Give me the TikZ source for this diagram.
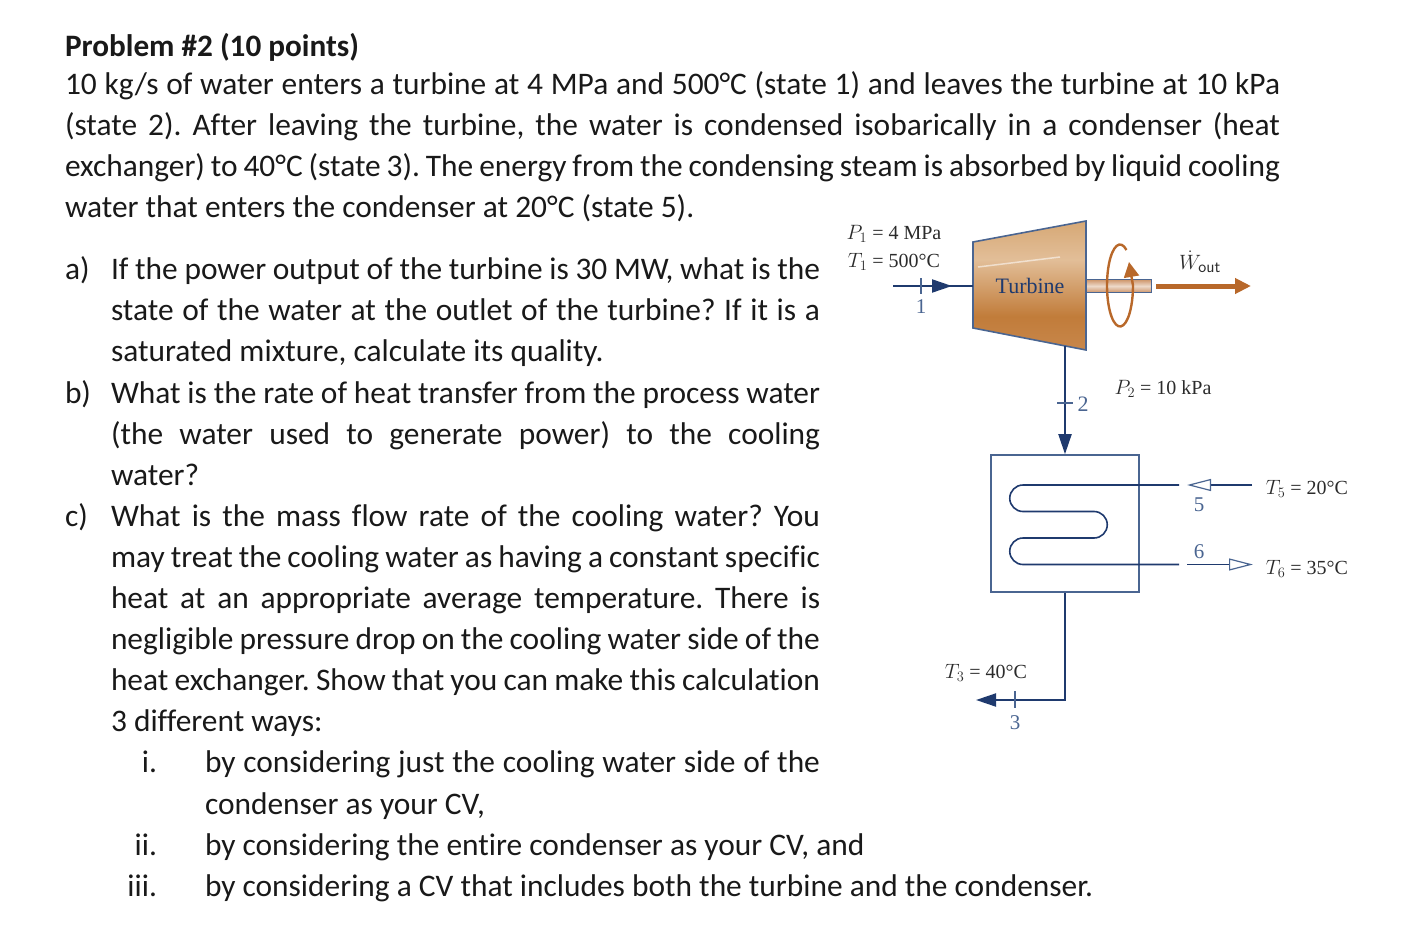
\documentclass[tikz,border=0pt]{standalone}
\usepackage{fontspec}
\setmainfont[Ligatures=NoCommon]{Carlito}
\newfontfamily\figfont{Liberation Serif}
\usepackage{amsmath}
\usetikzlibrary{arrows.meta}
\definecolor{pipeblue}{HTML}{1F3A6E}
\definecolor{boxblue}{HTML}{4A6591}
\definecolor{copper}{HTML}{B8682A}
\definecolor{figtext}{HTML}{2B2B2B}
\definecolor{tnA}{HTML}{D6A875}
\definecolor{tnB}{HTML}{E2BE98}
\definecolor{tnC}{HTML}{C17C3A}
\definecolor{tnD}{HTML}{C8874B}
\pgfdeclareverticalshading{turbineshade}{100bp}{color(0bp)=(tnD); color(25bp)=(tnD); color(38bp)=(tnC); color(60bp)=(tnB); color(75bp)=(tnA); color(100bp)=(tnA)}
\newcommand{\jl}[2]{\makebox[#1pt][s]{#2}}
\frenchspacing
\tikzset{
  textline/.style={anchor=base west,inner sep=0pt,outer sep=0pt,text=black!90,font=\fontsize{31.4}{37}\selectfont},
  romanline/.style={anchor=base east,inner sep=0pt,outer sep=0pt,text=black!90,font=\fontsize{31.4}{37}\selectfont},
  figlabel/.style={inner sep=0pt,text=figtext,font=\figfont\fontsize{20}{22}\selectfont},
  statenum/.style={inner sep=0pt,text=boxblue,font=\figfont\fontsize{21}{23}\selectfont},
  pipe/.style={draw=pipeblue,line width=2pt},
  thinpipe/.style={draw=pipeblue,line width=1.6pt},
  tick/.style={draw=boxblue,line width=1.2pt},
  flowtip/.style={-{Triangle[length=20pt,width=13pt,fill=pipeblue]}},
  opentip/.style={-{Triangle[open,length=24pt,width=12pt,color=boxblue,line width=1.2pt]}}
}
\begin{document}
\begin{tikzpicture}[x=1pt,y=-1pt]
\useasboundingbox (0,0) rectangle (1424,928);

%problem statement
\node[textline,font=\bfseries\fontsize{31.2}{37}\selectfont] (title) at (65,57) {Problem \#2 (10 points)};
\node[textline] (s1) at (65,95) {\jl{1215}{10 kg/s of water enters a turbine at 4 MPa and 500°C (state 1) and leaves the turbine at 10 kPa}};
\node[textline] (s2) at (65,136) {\jl{1215}{(state 2). After leaving the turbine, the water is condensed isobarically in a condenser (heat}};
\node[textline] (s3) at (65,177) {\jl{1215}{exchanger) to 40°C (state 3). The energy from the condensing steam is absorbed by liquid cooling}};
\node[textline] (s4) at (65,218) {water that enters the condenser at 20°C (state 5).};

%part a
\node[textline] (pa) at (65,279.5) {a)};
\node[textline] (a1) at (111,279.5) {\jl{709}{If the power output of the turbine is 30 MW, what is the}};
\node[textline] (a2) at (111,320.5) {\jl{709}{state of the water at the outlet of the turbine? If it is a}};
\node[textline] (a3) at (111,361.5) {saturated mixture, calculate its quality.};

%part b
\node[textline] (pb) at (65,403.5) {b)};
\node[textline] (b1) at (111,403.5) {\jl{709}{What is the rate of heat transfer from the process water}};
\node[textline] (b2) at (111,444.5) {\jl{709}{(the water used to generate power) to the cooling}};
\node[textline] (b3) at (111,485.5) {water?};

%part c
\node[textline] (pc) at (65,526.5) {c)};
\node[textline] (c1) at (111,526.5) {\jl{709}{What is the mass flow rate of the cooling water? You}};
\node[textline] (c2) at (111,567.5) {\jl{709}{may treat the cooling water as having a constant specific}};
\node[textline] (c3) at (111,608.5) {\jl{709}{heat at an appropriate average temperature. There is}};
\node[textline] (c4) at (111,649.5) {\jl{709}{negligible pressure drop on the cooling water side of the}};
\node[textline] (c5) at (111,690.5) {\jl{709}{heat exchanger. Show that you can make this calculation}};
\node[textline] (c6) at (111,731.5) {3 different ways:};
\node[romanline] (ri) at (157,772.5) {i.};
\node[textline] (i1) at (205,772.5) {\jl{615}{by considering just the cooling water side of the}};
\node[textline] (i2) at (205,814.5) {condenser as your CV,};
\node[romanline] (rii) at (157,855.5) {ii.};
\node[textline] (ii1) at (205,855.5) {by considering the entire condenser as your CV, and};
\node[romanline] (riii) at (157,896.5) {iii.};
\node[textline] (iii1) at (205,896.5) {by considering a CV that includes both the turbine and the condenser.};

%turbine body
\coordinate (tNW) at (973,242);
\coordinate (tNE) at (1086,221);
\coordinate (tSE) at (1086,350);
\coordinate (tSW) at (973,328);
\coordinate (tIn) at (973,286);
\coordinate (tOut) at (1065,346);
\shade[shading=turbineshade,draw=boxblue,line width=1.6pt]
  (tNW) -- (tNE) -- (tSE) -- (tSW) -- cycle;
\draw[white,opacity=0.55,line width=1.5pt] (978,267) -- (1060,257);
\node[inner sep=0pt,text=pipeblue,font=\figfont\fontsize{22}{24}\selectfont] (turbine) at (1030,286) {Turbine};

%shaft and work arrow
\shade[top color=copper!70!white,bottom color=copper!70!white,middle color=copper!25!white,draw=boxblue,line width=1.2pt]
  (1086,279.5) rectangle (1151.5,292.5);
\coordinate (wStart) at (1156,286);
\coordinate (wEnd) at (1251,286);
\draw[copper,line width=5pt,-{Triangle[length=16pt,width=15pt]}] (wStart) -- (wEnd);
\draw[copper,line width=2.4pt,-{Triangle[length=15pt,width=15pt]}]
  (1126.5,250) arc[start angle=300,end angle=0,x radius=13,y radius=41] -- (1129,262);
\node[figlabel] (wout) at (1200,262) {$\dot{W}_{\text{\sffamily\fontsize{17}{17}\selectfont out}}$};

%inlet
\coordinate (inStart) at (893,286);
\path[pipe] (inStart) -- (tIn);
\draw[pipe,flowtip] (inStart) -- (952,286);
\draw[tick] (921,278) -- (921,294);
\node[statenum] (one) at (921,307) {1};
\node[figlabel] (p1) at (894,234) {$P_1$ = 4 MPa};
\node[figlabel] (t1) at (894,262) {$T_1$ = 500°C};

%condenser
\node[draw=boxblue,line width=1.6pt,minimum width=148pt,minimum height=137pt,inner sep=0pt] (cond) at (1065,523.5) {};
\draw[pipe,flowtip] (tOut) -- (cond.north);
\draw[tick] (1057,403) -- (1073,403);
\node[statenum,font=\figfont\fontsize{22}{24}\selectfont] (two) at (1083,404) {2};
\node[figlabel] (p2) at (1163,389) {$P_2$ = 10 kPa};

%coil
\coordinate (coilIn) at (1179,485);
\coordinate (coilOut) at (1179,564.5);
\draw[thinpipe] (coilIn) -- (1023,485) arc[start angle=270,end angle=90,radius=13.25]
  -- (1094,511.5) arc[start angle=-90,end angle=90,radius=13.25]
  -- (1023,538) arc[start angle=270,end angle=90,radius=13.25] -- (coilOut);

%cooling water
\coordinate (cw5a) at (1252,485);
\coordinate (cw5b) at (1187,485);
\coordinate (cw6a) at (1187,564.5);
\coordinate (cw6b) at (1253,564.5);
\draw[thinpipe,opentip] (cw5a) -- (cw5b);
\draw[thinpipe,opentip] (cw6a) -- (cw6b);
\node[statenum] (five) at (1199,505) {5};
\node[statenum] (six) at (1199,552) {6};
\node[figlabel] (t5) at (1307,489) {$T_5$ = 20°C};
\node[figlabel] (t6) at (1307,569) {$T_6$ = 35°C};

%condensate outlet
\coordinate (bend) at (1065,700);
\coordinate (outEnd) at (976,700);
\draw[pipe,flowtip] (cond.south) -- (bend) -- (outEnd);
\draw[tick] (1015,691) -- (1015,708);
\node[statenum] (three) at (1015,723) {3};
\node[figlabel] (t3) at (986,673) {$T_3$ = 40°C};

\end{tikzpicture}
\end{document}
